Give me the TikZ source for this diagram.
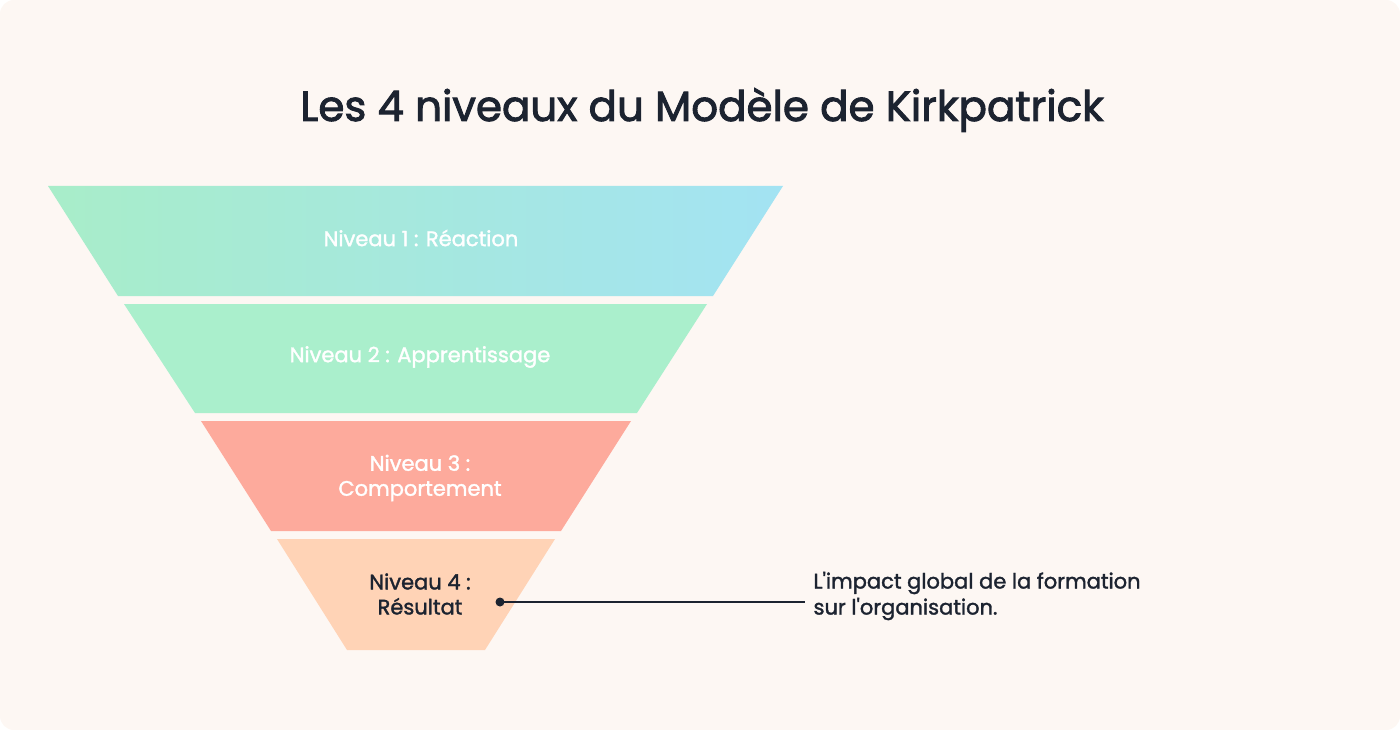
\documentclass[tikz,border=0pt]{standalone}
\usepackage{fontspec}
\setmainfont{Poppins}
\newfontfamily\medfont[FakeBold=1.6]{Poppins}
\newfontfamily\titfont[FakeBold=2.2]{Poppins}
\definecolor{bg}{HTML}{FDF7F3}
\definecolor{ink}{HTML}{1C2330}
\definecolor{gA}{HTML}{A8EDC9}
\definecolor{bA}{HTML}{A3E3F3}
\definecolor{lv2}{HTML}{AAEFCC}
\definecolor{lv3}{HTML}{FDAA9C}
\definecolor{lv4}{HTML}{FFD3B6}
\tikzset{lbl/.style={align=center,font=\medfont\fontsize{21}{25}\selectfont,text=white},
 lvl/.style={draw=none}}
\begin{document}
\begin{tikzpicture}[x=1pt,y=-1pt]
\useasboundingbox (0,0) rectangle (1400,730);
\fill[bg,rounded corners=14pt] (0,0) rectangle (1400,730);
\node[font=\titfont\fontsize{42}{48}\selectfont,text=ink] (title) at (702,110) {Les 4 niveaux du Modèle de Kirkpatrick};
\shade[left color=gA,right color=bA] (48,186) -- (783,186) -- (713,296) -- (118,296) -- cycle;
\fill[lv2] (124,304) -- (707,304) -- (637,413) -- (195,413) -- cycle;
\fill[lv3] (201,421) -- (631,421) -- (561,531) -- (271,531) -- cycle;
\fill[lv4] (277,539) -- (555,539) -- (485,650) -- (347,650) -- cycle;
\node[lbl] (n1) at (421,238) {Niveau 1 : Réaction};
\node[lbl] (n2) at (420,357) {Niveau 2 : Apprentissage};
\node[lbl] (n3) at (420,478) {Niveau 3 :\\Comportement};
\node[lbl,text=ink] (n4) at (420,594) {Niveau 4 :\\Résultat};
\coordinate (dot) at (500,602);
\coordinate (end) at (805,602);
\fill[ink] (dot) circle (4.5);
\draw[ink,line width=1.3pt] (dot) -- (end);
\node[anchor=west,align=left,font=\medfont\fontsize{21}{26}\selectfont,text=ink] (desc) at (810,596) {L{\char39}impact global de la formation\\sur l{\char39}organisation.};
\end{tikzpicture}
\end{document}
